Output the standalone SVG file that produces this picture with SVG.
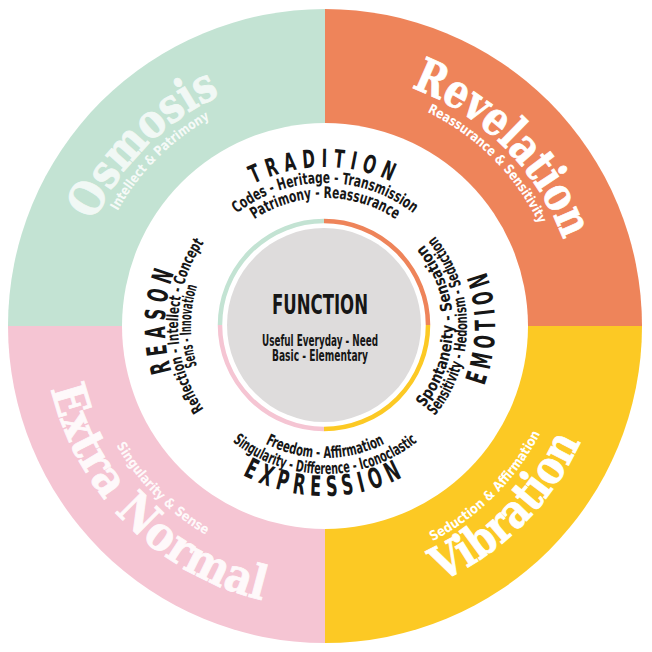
<svg xmlns="http://www.w3.org/2000/svg" width="652" height="652" viewBox="0 0 652 652">
<style>
.hd{font-family:'DejaVu Sans Condensed','DejaVu Sans',sans-serif;font-weight:bold;fill:#161616;font-size:28px;letter-spacing:9px;}
.ln{font-family:'DejaVu Sans Condensed','DejaVu Sans',sans-serif;font-weight:bold;fill:#161616;font-size:16px;}
.big{font-family:'DejaVu Serif','Liberation Serif',serif;font-weight:bold;fill:#ffffff;stroke:#ffffff;stroke-width:0.8px;font-size:47px;}
.sub{font-family:'DejaVu Sans Condensed','DejaVu Sans',sans-serif;font-weight:bold;fill:#ffffff;font-size:13.5px;}
.ring{fill:none;stroke-width:4.5;}
</style>
<defs>
<path id="pTrad" d="M166,326 A159 159 0 0 1 484,326"/>
<path id="pCodes" d="M182,326 A143 143 0 0 1 468,326"/>
<path id="pPatr" d="M197,326 A128 128 0 0 1 453,326"/>
<path id="pExpr" d="M155,326 A170 170 0 0 0 495,326"/>
<path id="pSing" d="M177,326 A148 148 0 0 0 473,326"/>
<path id="pFree" d="M193,326 A132 132 0 0 0 457,326"/>
<path id="pReas" d="M325,486 A160 160 0 0 1 325,166"/>
<path id="pRefl" d="M325,473 A147 147 0 0 1 325,179"/>
<path id="pSens" d="M325,460 A134 134 0 0 1 325,192"/>
<path id="pEmo" d="M325,496 A170 170 0 0 0 325,156"/>
<path id="pSensi" d="M325,468 A142 142 0 0 0 325,184"/>
<path id="pSpon" d="M325,454 A128 128 0 0 0 325,198"/>
<path id="pOsm" d="M142.6,508.4 A258 258 0 0 1 507.4,143.6"/>
<path id="pOsmS" d="M157.4,493.6 A237 237 0 0 1 492.6,158.4"/>
<path id="pRev" d="M142.6,143.6 A258 258 0 0 1 507.4,508.4"/>
<path id="pRevS" d="M157.4,158.4 A237 237 0 0 1 492.6,493.6"/>
<path id="pExt" d="M123.5,124.5 A285 285 0 0 0 526.5,527.5"/>
<path id="pExtS" d="M151.1,152.1 A246 246 0 0 0 498.9,499.9"/>
<path id="pVib" d="M123.5,527.5 A285 285 0 0 0 526.5,124.5"/>
<path id="pVibS" d="M151.1,499.9 A246 246 0 0 0 498.9,152.1"/>
</defs>
<rect width="652" height="652" fill="#ffffff"/>

<g id="osmosis">
<path d="M325,326 L8,326 A317 317 0 0 1 325,9 Z" fill="#c3e3d3"/>
</g>
<g id="revelation">
<path d="M325,326 L325,9 A317 317 0 0 1 642,326 Z" fill="#ee845a"/>
</g>
<g id="vibration">
<path d="M325,326 L642,326 A317 317 0 0 1 325,643 Z" fill="#fcc924"/>
</g>
<g id="extra-normal">
<path d="M325,326 L325,643 A317 317 0 0 1 8,326 Z" fill="#f5c5d3"/>
</g>
<circle cx="325" cy="326" r="203" fill="#ffffff"/>

<g id="osmosis-label">
<text class="big" opacity="0.78"><textPath href="#pOsm" startOffset="50%" text-anchor="middle" textLength="182" lengthAdjust="spacingAndGlyphs">Osmosis</textPath></text>
<text class="sub" opacity="0.85"><textPath href="#pOsmS" startOffset="50%" text-anchor="middle" textLength="132" lengthAdjust="spacingAndGlyphs">Intellect &amp; Patrimony</textPath></text>
</g>
<g id="revelation-label">
<text class="big"><textPath href="#pRev" startOffset="50%" text-anchor="middle" textLength="222" lengthAdjust="spacingAndGlyphs">Revelation</textPath></text>
<text class="sub"><textPath href="#pRevS" startOffset="50%" text-anchor="middle" textLength="161" lengthAdjust="spacingAndGlyphs">Reassurance &amp; Sensitivity</textPath></text>
</g>
<g id="extra-normal-label">
<text class="big" opacity="0.9"><textPath href="#pExt" startOffset="50%" text-anchor="middle" textLength="315" lengthAdjust="spacingAndGlyphs">Extra Normal</textPath></text>
<text class="sub" opacity="0.9"><textPath href="#pExtS" startOffset="50%" text-anchor="middle" textLength="128" lengthAdjust="spacingAndGlyphs">Singularity &amp; Sense</textPath></text>
</g>
<g id="vibration-label">
<text class="big"><textPath href="#pVib" startOffset="50%" text-anchor="middle" textLength="202" lengthAdjust="spacingAndGlyphs">Vibration</textPath></text>
<text class="sub"><textPath href="#pVibS" startOffset="50%" text-anchor="middle" textLength="155" lengthAdjust="spacingAndGlyphs">Seduction &amp; Affirmation</textPath></text>
</g>

<g id="tradition">
<text class="hd" style="font-size:25px"><textPath href="#pTrad" startOffset="50%" text-anchor="middle" textLength="148" lengthAdjust="spacingAndGlyphs">TRADITION</textPath></text>
<text class="ln"><textPath href="#pCodes" startOffset="50%" text-anchor="middle" textLength="190" lengthAdjust="spacingAndGlyphs">Codes - Heritage - Transmission</textPath></text>
<text class="ln"><textPath href="#pPatr" startOffset="50%" text-anchor="middle" textLength="150" lengthAdjust="spacingAndGlyphs">Patrimony - Reassurance</textPath></text>
</g>
<g id="expression">
<text class="hd"><textPath href="#pExpr" startOffset="50%" text-anchor="middle" textLength="172" lengthAdjust="spacingAndGlyphs">EXPRESSION</textPath></text>
<text class="ln"><textPath href="#pSing" startOffset="50%" text-anchor="middle" textLength="200" lengthAdjust="spacingAndGlyphs">Singularity - Difference - Iconoclastic</textPath></text>
<text class="ln"><textPath href="#pFree" startOffset="50%" text-anchor="middle" textLength="124" lengthAdjust="spacingAndGlyphs">Freedom - Affirmation</textPath></text>
</g>
<g id="reason">
<text class="hd"><textPath href="#pReas" startOffset="258" text-anchor="middle" textLength="106" lengthAdjust="spacingAndGlyphs">REASON</textPath></text>
<text class="ln"><textPath href="#pRefl" startOffset="50%" text-anchor="middle" textLength="177" lengthAdjust="spacingAndGlyphs">Reflection - Intellect - Concept</textPath></text>
<text class="ln"><textPath href="#pSens" startOffset="50%" text-anchor="middle" textLength="81" lengthAdjust="spacingAndGlyphs">Sens - Innovation</textPath></text>
</g>
<g id="emotion">
<text class="hd"><textPath href="#pEmo" startOffset="50%" text-anchor="middle" textLength="122" lengthAdjust="spacingAndGlyphs">EMOTION</textPath></text>
<text class="ln"><textPath href="#pSensi" startOffset="50%" text-anchor="middle" textLength="195" lengthAdjust="spacingAndGlyphs">Sensitivity - Hedonism - Seduction</textPath></text>
<text class="ln"><textPath href="#pSpon" startOffset="50%" text-anchor="middle" textLength="177" lengthAdjust="spacingAndGlyphs">Spontaneity - Sensation</textPath></text>
</g>

<g id="function">
<path class="ring" stroke="#c3e3d3" d="M220,325 A104 104 0 0 1 324,221"/>
<path class="ring" stroke="#ee845a" d="M324,221 A104 104 0 0 1 428,325"/>
<path class="ring" stroke="#fcc924" d="M428,325 A104 104 0 0 1 324,429"/>
<path class="ring" stroke="#f5c5d3" d="M324,429 A104 104 0 0 1 220,325"/>
<circle cx="324" cy="325" r="97" fill="#dedcdc"/>
<text class="hd" x="320" y="314" text-anchor="middle" style="letter-spacing:0;font-size:27px" textLength="96" lengthAdjust="spacingAndGlyphs">FUNCTION</text>
<text class="ln" x="320" y="346" text-anchor="middle" style="font-size:15px" textLength="116" lengthAdjust="spacingAndGlyphs">Useful Everyday - Need</text>
<text class="ln" x="320" y="361" text-anchor="middle" style="font-size:15px" textLength="96" lengthAdjust="spacingAndGlyphs">Basic - Elementary</text>
</g>
</svg>
